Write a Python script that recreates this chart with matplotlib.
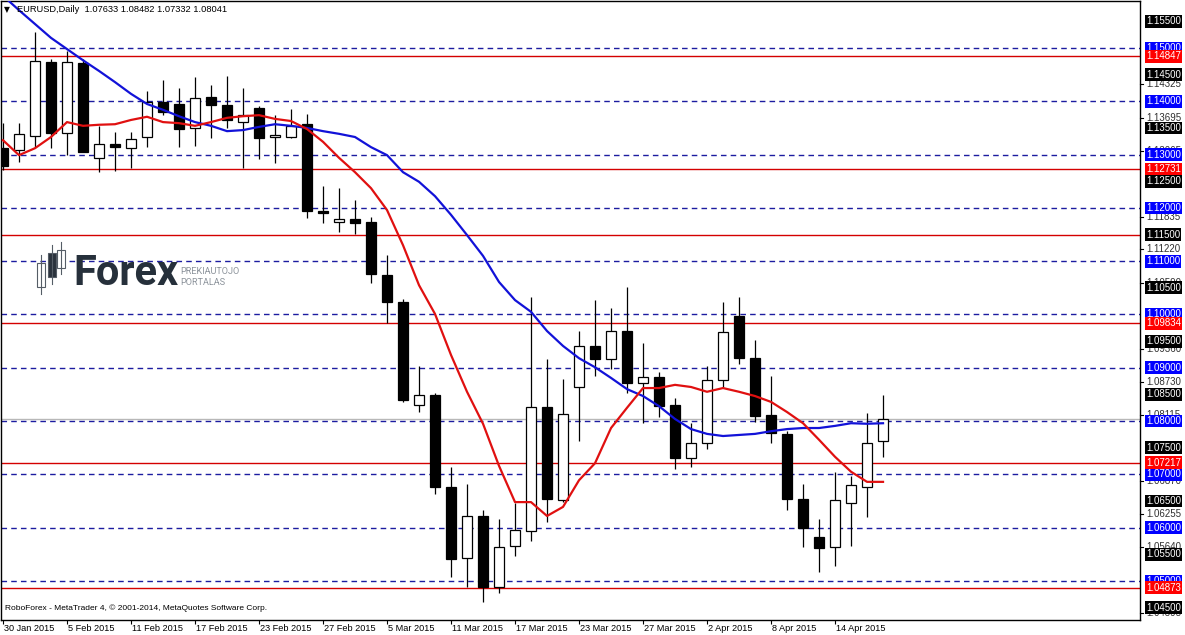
import matplotlib
matplotlib.use('Agg')
import matplotlib.pyplot as plt
from matplotlib.patches import Rectangle
from matplotlib.transforms import blended_transform_factory

# ---- data (EURUSD daily, 30 Jan - 17 Apr 2015) ----
tick_labels = ['30 Jan 2015', '5 Feb 2015', '11 Feb 2015', '17 Feb 2015', '23 Feb 2015',
               '27 Feb 2015', '5 Mar 2015', '11 Mar 2015', '17 Mar 2015', '23 Mar 2015',
               '27 Mar 2015', '2 Apr 2015', '8 Apr 2015', '14 Apr 2015']

opens = [1.1312, 1.1309, 1.1335, 1.1474, 1.1341, 1.1472, 1.1294, 1.1320, 1.1312, 1.1333,
         1.1399, 1.1395, 1.1350, 1.1408, 1.1393, 1.1361, 1.1387, 1.1333, 1.1333, 1.1357,
         1.1194, 1.1174, 1.1179, 1.1174, 1.1074, 1.1023, 1.0830, 1.0849, 1.0676, 1.0543,
         1.0622, 1.0489, 1.0566, 1.0594, 1.0826, 1.0652, 1.0864, 1.0941, 1.0917, 1.0969,
         1.0871, 1.0883, 1.0830, 1.0731, 1.0759, 1.0877, 1.0997, 1.0918, 1.0811, 1.0776,
         1.0654, 1.0583, 1.0564, 1.0646, 1.0676, 1.07633]
highs = [1.1359, 1.1359, 1.1530, 1.1479, 1.1494, 1.1479, 1.1354, 1.1342, 1.1342, 1.1419,
         1.1440, 1.1425, 1.1446, 1.1431, 1.1447, 1.1425, 1.1391, 1.1374, 1.1386, 1.1376,
         1.1241, 1.1237, 1.1215, 1.1183, 1.1112, 1.1029, 1.0903, 1.0853, 1.0714, 1.0682,
         1.0633, 1.0616, 1.0646, 1.1033, 1.0917, 1.0879, 1.0969, 1.1027, 1.1012, 1.1052,
         1.0947, 1.0892, 1.0843, 1.0796, 1.0903, 1.1023, 1.1033, 1.0952, 1.0885, 1.0781,
         1.0682, 1.0616, 1.0705, 1.0697, 1.0815, 1.08482]
lows = [1.1271, 1.1286, 1.1314, 1.1312, 1.1299, 1.1305, 1.1267, 1.1269, 1.1275, 1.1314,
        1.1374, 1.1314, 1.1316, 1.1331, 1.1350, 1.1275, 1.1292, 1.1284, 1.1331, 1.1181,
        1.1172, 1.1155, 1.1151, 1.1059, 1.0984, 1.0836, 1.0817, 1.0663, 1.0508, 1.0489,
        1.0461, 1.0478, 1.0547, 1.0575, 1.0611, 1.0648, 1.0763, 1.0885, 1.0898, 1.0853,
        1.0796, 1.0808, 1.0710, 1.0714, 1.0748, 1.0862, 1.0907, 1.0798, 1.0759, 1.0633,
        1.0564, 1.0517, 1.0528, 1.0566, 1.0620, 1.07332]
closes = [1.1279, 1.1339, 1.1476, 1.1341, 1.1474, 1.1305, 1.1320, 1.1314, 1.1329, 1.1399,
          1.1380, 1.1348, 1.1406, 1.1393, 1.1365, 1.1374, 1.1331, 1.1337, 1.1354, 1.1194,
          1.1190, 1.1179, 1.1172, 1.1076, 1.1023, 1.0840, 1.0849, 1.0676, 1.0541, 1.0622,
          1.0489, 1.0564, 1.0596, 1.0826, 1.0654, 1.0813, 1.0941, 1.0917, 1.0969, 1.0871,
          1.0883, 1.0828, 1.0731, 1.0759, 1.0877, 1.0967, 1.0918, 1.0810, 1.0778, 1.0654,
          1.0600, 1.0562, 1.0652, 1.0680, 1.0759, 1.08041]

# slow moving average (blue) and fast moving average (red)
ma_slow = [1.1598, 1.1571, 1.1545, 1.1519, 1.1498, 1.1477, 1.1457, 1.1436, 1.1414, 1.1395,
           1.1384, 1.1372, 1.1361, 1.1354, 1.1344, 1.1346, 1.1352, 1.1357, 1.1354, 1.1350,
           1.1344, 1.1339, 1.1333, 1.1314, 1.1299, 1.1267, 1.1249, 1.1222, 1.1187, 1.1149,
           1.1110, 1.1061, 1.1027, 1.1005, 1.0969, 1.0941, 1.0918, 1.0901, 1.0881, 1.0860,
           1.0847, 1.0828, 1.0804, 1.0785, 1.0776, 1.0772, 1.0774, 1.0776, 1.0781, 1.0785,
           1.0787, 1.0787, 1.0791, 1.0796, 1.0795, 1.0796]
ma_fast = [1.1327, 1.1299, 1.1312, 1.1333, 1.1361, 1.1354, 1.1356, 1.1357, 1.1365, 1.1371,
           1.1361, 1.1359, 1.1354, 1.1361, 1.1369, 1.1372, 1.1374, 1.1367, 1.1363, 1.1348,
           1.1324, 1.1294, 1.1267, 1.1237, 1.1196, 1.1130, 1.1055, 1.1001, 1.0924, 1.0855,
           1.0795, 1.0716, 1.0648, 1.0648, 1.0622, 1.0639, 1.0689, 1.0721, 1.0787, 1.0825,
           1.0862, 1.0862, 1.0868, 1.0864, 1.0855, 1.0862, 1.0855, 1.0847, 1.0836, 1.0817,
           1.0796, 1.0765, 1.0733, 1.0705, 1.0686, 1.0686]

round_levels = [1.150, 1.140, 1.130, 1.120, 1.110, 1.100, 1.090, 1.080, 1.070, 1.060, 1.050]
red_levels = [1.14847, 1.12731, 1.11500, 1.09834, 1.07217, 1.04873]
half_levels = [1.155, 1.145, 1.135, 1.125, 1.115, 1.105, 1.095, 1.085, 1.075, 1.065, 1.055, 1.045]
scale_levels = [1.14325, 1.13695, 1.13065, 1.11835, 1.11220, 1.10590, 1.09360, 1.08730,
                1.08115, 1.06870, 1.06255, 1.05640, 1.04395]
last_price = 1.08041

W, H = 1185, 635
fig = plt.figure(figsize=(W / 100, H / 100), dpi=100)
fig.patch.set_facecolor('white')
ax = fig.add_axes([1 / W, (H - 620) / H, 1139 / W, 619 / H])

FONT = ['Liberation Sans', 'DejaVu Sans']

# horizontal levels
for lv in round_levels:
    ax.axhline(lv, color='#1c1ca0', lw=1, ls=(0, (4, 3)), zorder=1)
for lv in red_levels:
    ax.axhline(lv, color='#d40000', lw=1, zorder=1)
ax.axhline(last_price, color='#b8b8b8', lw=1, zorder=0.5)

# candles
n = len(opens)
bw = 0.68
for i in range(n):
    o, h, l, c = opens[i], highs[i], lows[i], closes[i]
    ax.plot([i, i], [l, h], color='black', lw=0.9, zorder=3, solid_capstyle='butt')
    bottom = min(o, c)
    height = max(abs(c - o), 0.00012)
    fc = 'white' if c >= o else 'black'
    ax.add_patch(Rectangle((i - bw / 2, bottom), bw, height, facecolor=fc,
                           edgecolor='black', lw=0.9, zorder=4))

# moving averages
ax.plot(range(n), ma_slow, color='#1212d8', lw=1.6, zorder=5)
ax.plot(range(n), ma_fast, color='#e01010', lw=1.6, zorder=5)

ax.set_xlim(-0.125, 71.06)
ax.set_ylim(1.04268, 1.15882)
for s in ax.spines.values():
    s.set_color('black')
    s.set_linewidth(1)
ax.set_yticks([])
tick_pos = list(range(0, n, 4))
ax.set_xticks(tick_pos)
ax.set_xticklabels([])
ax.tick_params(axis='x', direction='out', length=3, width=0.8, color='black')

bx = blended_transform_factory(ax.transData, ax.transAxes)
for p, lab in zip(tick_pos, tick_labels):
    ax.text(p + 0.05, -0.006, lab, transform=bx, ha='left', va='top',
            fontsize=6.6, family=FONT, color='black')

# right price scale
ty = blended_transform_factory(fig.transFigure, ax.transData)
xl = 1146 / W
for lv in scale_levels:
    ax.text(xl, lv, '%.5f' % lv, transform=ty, ha='left', va='center', fontsize=7,
            family=FONT, color='#303030', zorder=1, clip_on=False)
    fig.add_artist(plt.Line2D([1140 / W, 1143 / W], [lv, lv], transform=ty, color='black', lw=0.8))


def price_box(lv, bg):
    ax.text(xl, lv, '%.5f' % lv, transform=ty, ha='left', va='center', fontsize=7,
            family=FONT, color='white', zorder=10, clip_on=False,
            bbox=dict(boxstyle='square,pad=0.14', fc=bg, ec='none'))


for lv in half_levels:
    price_box(lv, 'black')
for lv in round_levels:
    price_box(lv, '#0000ff')
for lv in red_levels:
    if lv != 1.115:
        price_box(lv, '#ff0000')

# header and footer
fig.text(4 / W, 1 - 10 / H, '\u25bc', fontsize=5.5, family=['DejaVu Sans'], va='center', ha='left')
fig.text(17 / W, 1 - 10 / H, 'EURUSD,Daily  1.07633 1.08482 1.07332 1.08041', fontsize=6.7,
         family=FONT, va='center', ha='left')
fig.text(5 / W, 1 - 608 / H, 'RoboForex - MetaTrader 4, \u00a9 2001-2014, MetaQuotes Software Corp.',
         fontsize=6.0, family=FONT, va='center', ha='left')


# watermark logo
def px(x, y):
    return x / W, 1 - y / H


for (x0, b0, b1, w0, w1, fc) in [(37, 263, 287, 255, 294, 'white'),
                                  (48, 253, 277, 245, 284, '#2a323c'),
                                  (57, 250, 268, 242, 274, 'white')]:
    cx = x0 + 4
    fig.add_artist(plt.Line2D([cx / W, cx / W], [1 - w1 / H, 1 - w0 / H], color='#555d66', lw=0.8))
    fig.add_artist(Rectangle(px(x0, b1), 8 / W, (b1 - b0) / H, transform=fig.transFigure,
                             facecolor=fc, edgecolor='#555d66', lw=0.8))
fig.text(*px(73, 285), 'Forex', fontsize=30, fontweight='bold', family=['Roboto', 'DejaVu Sans'],
         color='#26303b', va='baseline', ha='left')
fig.text(*px(180, 274), 'PREKIAUTOJO', fontsize=6.6, family=['Roboto', 'DejaVu Sans'],
         color='#8c939b', va='baseline', ha='left')
fig.text(*px(180, 285), 'PORTALAS', fontsize=6.6, family=['Roboto', 'DejaVu Sans'],
         color='#8c939b', va='baseline', ha='left')

fig.savefig('out.png', dpi=100, facecolor='white')
